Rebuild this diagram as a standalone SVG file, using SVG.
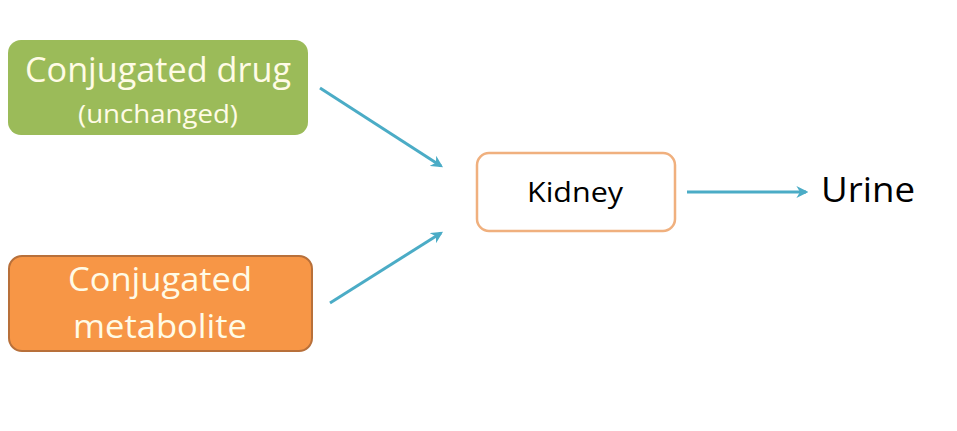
<svg xmlns="http://www.w3.org/2000/svg" width="957" height="431" viewBox="0 0 957 431">
<defs>
<style>
.t{font-family:"Open Sans","Liberation Sans",sans-serif;text-anchor:middle}
.w{fill:#FFFBE6}
.k{fill:#000}
.c{stroke:#4BACC6;stroke-width:3;fill:none;marker-end:url(#ah)}
</style>
<marker id="ah" viewBox="0 0 10 10" refX="8" refY="5" markerWidth="4" markerHeight="4" orient="auto" markerUnits="strokeWidth">
<path d="M0,0 L10,5 L0,10 L3,5 z" fill="#4BACC6"/>
</marker>
</defs>
<rect width="957" height="431" fill="#fff"/>
<g id="drug">
<rect x="8" y="40" width="300" height="95" rx="13" fill="#9BBB59"/>
<text class="t w" x="158" y="82" font-size="34" textLength="266" lengthAdjust="spacingAndGlyphs">Conjugated drug</text>
<text class="t w" x="158" y="123" font-size="25" textLength="160" lengthAdjust="spacingAndGlyphs">(unchanged)</text>
</g>
<g id="metabolite">
<rect x="9" y="256" width="303" height="95" rx="13" fill="#F79646" stroke="#B8703A" stroke-width="2"/>
<text class="t w" x="160" y="291" font-size="32" textLength="184" lengthAdjust="spacingAndGlyphs">Conjugated</text>
<text class="t w" x="160" y="338" font-size="32" textLength="174" lengthAdjust="spacingAndGlyphs">metabolite</text>
</g>
<g id="kidney">
<rect x="477" y="153" width="198" height="78" rx="12" fill="#fff" stroke="#F0B07E" stroke-width="2.5"/>
<text class="t k" x="575" y="202" font-size="28" textLength="96" lengthAdjust="spacingAndGlyphs">Kidney</text>
</g>
<g id="urine">
<text class="k" font-family="Open Sans, Liberation Sans, sans-serif" x="821" y="202" font-size="34" textLength="94" lengthAdjust="spacingAndGlyphs">Urine</text>
</g>
<g id="connectors">
<line class="c" x1="320" y1="88" x2="441" y2="166"/>
<line class="c" x1="330" y1="303" x2="441" y2="233"/>
<line class="c" x1="687" y1="192" x2="806" y2="192"/>
</g>
</svg>
